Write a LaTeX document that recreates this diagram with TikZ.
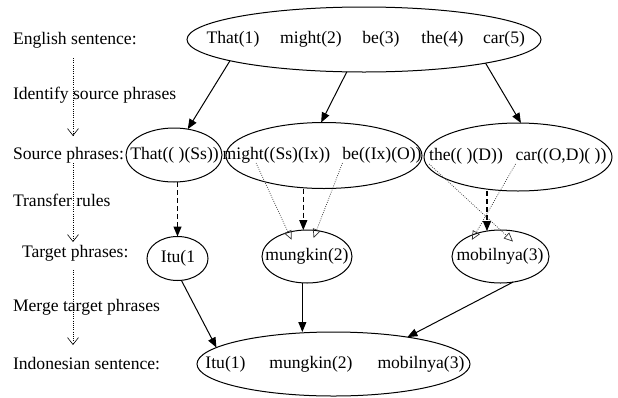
\documentclass[tikz,border=0pt]{standalone}
\usepackage{fontspec}
\setmainfont{Liberation Serif}
\usetikzlibrary{arrows.meta,calc,shapes.geometric}
\begin{document}
\begin{tikzpicture}[x=1pt,y=-1pt,
  every node/.style={inner sep=0pt, outer sep=0pt, font=\fontsize{17.6}{20}\selectfont},
  oval/.style={draw, ellipse, line width=1pt},
  lbl/.style={anchor=west},
  solidarrow/.style={line width=1pt, -{Triangle[length=10pt,width=8pt]}},
  dasharrow/.style={line width=1.2pt, dash pattern=on 5pt off 3pt, -{Triangle[length=10pt,width=8pt]}},
  ruledot/.style={line width=0.7pt, dash pattern=on 0.8pt off 1.4pt, draw=black!80, -{Triangle[open,length=9pt,width=8pt]}},
  stagedot/.style={line width=0.6pt, dash pattern=on 0.8pt off 1.4pt, -{Straight Barb[length=7pt,width=11pt]}},
]
\useasboundingbox (0,0) rectangle (618,397);

% ellipses
\node[oval, minimum width=354pt, minimum height=65pt] (T) at (364,39.5) {};
\node[oval, minimum width=96pt, minimum height=54pt] (S1) at (174,155) {};
\node[oval, minimum width=196pt, minimum height=66pt] (S2) at (324,155.5) {};
\node[oval, minimum width=188pt, minimum height=68pt] (S3) at (518,157) {};
\node[oval, minimum width=61pt, minimum height=44pt] (I) at (177.5,258.5) {};
\node[oval, minimum width=90pt, minimum height=53pt] (M) at (307,256.5) {};
\node[oval, minimum width=97pt, minimum height=53pt] (B) at (500.5,256.5) {};
\node[oval, minimum width=273pt, minimum height=64pt] (Bot) at (333.5,364) {};

% words
\node (t1) at (233,39.5) {That(1)};
\node (t2) at (311,39.5) {might(2)};
\node (t3) at (381,39.5) {be(3)};
\node (t4) at (442.5,39.5) {the(4)};
\node (t5) at (504,39.5) {car(5)};

\node (s1) at (174.5,155) {That(( )(Ss))};
\node (s2) at (276.5,155) {might((Ss)(Ix))};
\node (s3) at (382,155) {be((Ix)(O))};
\node (s4) at (466,156) {the(( )(D))};
\node (s5) at (561,156) {car((O,D)( ))};

\node (i1) at (178,258.5) {Itu(1};
\node (m1) at (307,256.5) {mungkin(2)};
\node (b1) at (500,256.5) {mobilnya(3)};

\node (o1) at (225.5,364) {Itu(1)};
\node (o2) at (311,364) {mungkin(2)};
\node (o3) at (421,364) {mobilnya(3)};

% stage arrows on the left
\coordinate (v1s) at (73,58);
\coordinate (v1e) at (73,136);
\coordinate (v2s) at (73,163);
\coordinate (v2e) at (73,242);
\coordinate (v3s) at (73,270);
\coordinate (v3e) at (73,345);
\draw[stagedot] (v1s) -- (v1e);
\draw[stagedot] (v2s) -- (v2e);
\draw[stagedot] (v3s) -- (v3e);

% labels
\node[lbl] (L1) at (13,40) {English sentence:};
\node[lbl] (L2) at (13,95) {Identify source phrases};
\node[lbl] (L3) at (13,155) {Source phrases:};
\node[lbl] (L4) at (13,200) {Transfer rules};
\node[lbl] (L5) at (22,253) {Target phrases:};
\node[lbl] (L6) at (13,307) {Merge target phrases};
\node[lbl] (L7) at (13,364) {Indonesian sentence:};

% identify
\draw[solidarrow] (T.189.5) -- (S1.62);
\draw[solidarrow] (T.242) -- (S2.95);
\draw[solidarrow] (T.-11) -- (S3.85);

% transfer
\draw[dasharrow] (I.north |- S1.south) -- (I.north);
\draw[dasharrow] (M.98 |- S2.south) -- (M.98);
\draw[dasharrow] (B.118 |- S3.south) -- (B.118);

% rule links
\draw[ruledot, shorten >=-8pt] ($(s2.south west)!0.31!(s2.south east)$) -- (M.128);
\draw[ruledot, shorten >=-8pt] (s3.south west) -- (M.70);
\draw[ruledot, shorten >=-17pt] (s4.south west) -- (B.90);
\draw[ruledot, shorten >=-7pt] (s5.south west) -- (B.138);

% merge
\draw[solidarrow] (I.280) -- (Bot.172);
\draw[solidarrow] (M.260) -- (M.260 |- Bot.north);
\draw[solidarrow] (B.296) -- (Bot.20);
\end{tikzpicture}
\end{document}
